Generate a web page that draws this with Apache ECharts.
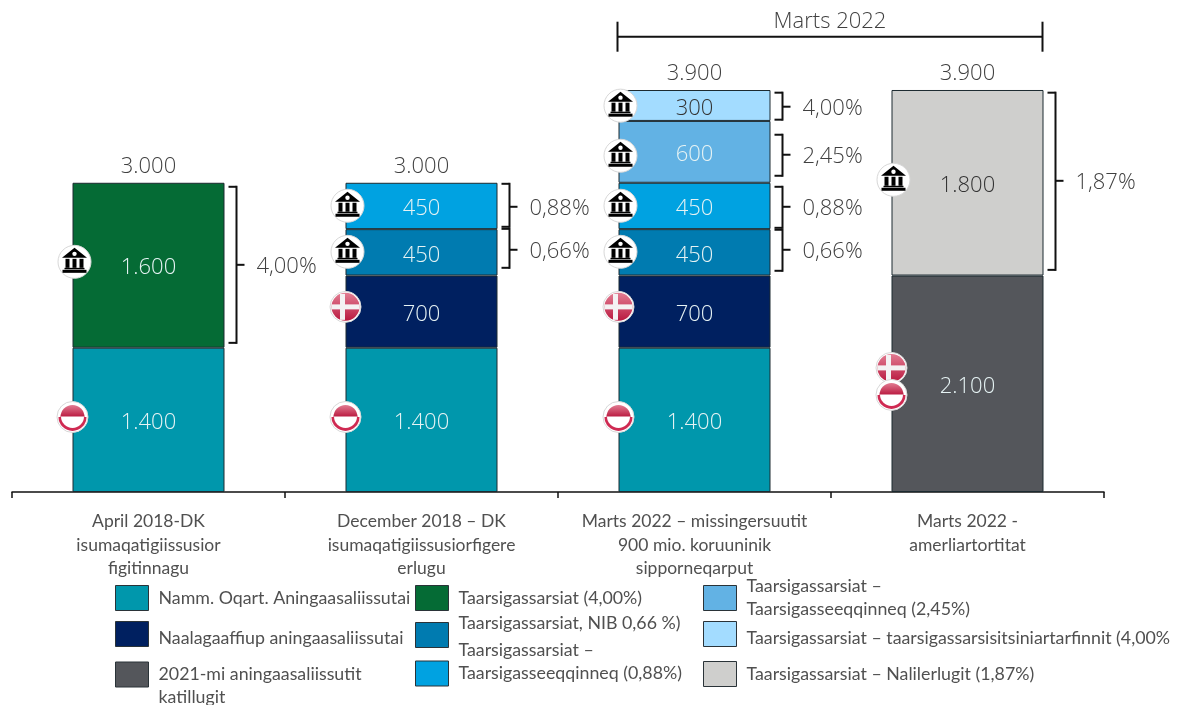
<!DOCTYPE html>
<html><head><meta charset="utf-8">
<style>html,body{margin:0;padding:0;background:#fff}#c{width:1178px;height:705px}</style>
<script src="https://cdn.jsdelivr.net/npm/echarts@6/dist/echarts.min.js"></script>
</head><body><div id="c"></div>
<script>
const categories = [
  "April 2018-DK\nisumaqatigiissusior\nfigitinnagu",
  "December 2018 – DK\nisumaqatigiissusiorfigere\nerlugu",
  "Marts 2022 – missingersuutit\n900 mio. koruuninik\nsipporneqarput",
  "Marts 2022 -\namerliartortitat"
];
const totals = [3000, 3000, 3900, 3900];
const nammOqart = [1400, 1400, 1400, null];
const taars400 = [1600, null, null, null];
const naalagaaffiup = [null, 700, 700, null];
const taarsNib = [null, 450, 450, null];
const taars088 = [null, 450, 450, null];
const taars245 = [null, null, 600, null];
const taarsFinnit = [null, null, 300, null];
const aning2021 = [null, null, null, 2100];
const taars187 = [null, null, null, 1800];

const braceCats = [0, 1, 1, 2, 2, 2, 2, 3];
const braceFrom = [2961, 2990, 2553, 3874, 3466, 2961, 2544, 3874];
const braceTo = [1447, 2573, 2175, 3612, 3068, 2563, 2146, 2155];
const braceMid = [2204, 2767, 2350, 3738, 3272, 2767, 2350, 3019];
const braceLabels = ["4,00%", "0,88%", "0,66%", "4,00%", "2,45%", "0,88%", "0,66%", "1,87%"];

const iconCats = [0, 0, 1, 1, 1, 1, 2, 2, 2, 2, 2, 2, 3, 3, 3];
const iconValues = [2233, 728, 2777, 2330, 1796, 728, 3748, 3262, 2777, 2330, 1796, 728, 3029, 1204, 942];
const iconKinds = ["bank", "gl", "bank", "bank", "dk", "gl", "bank", "bank", "bank", "bank", "dk", "gl", "bank", "dk", "gl"];

const periodLabel = "Marts 2022";
const periodCats = [2, 3];
const periodValue = 4417;

const INK = "#404040", SOFT = "#505050", FONT = '"Open Sans"', LABEL_FONT = 'Lato', BAR_W = 152;
const fmt = v => String(v).replace(/\B(?=(\d{3})+$)/g, ".");

function barSeries(name, data, color, labelColor) {
  return { name, type: "bar", stack: "a", data, barWidth: BAR_W,
    itemStyle: { color, borderColor: "#1c2a30", borderWidth: 1 },
    label: { show: true, position: "inside", offset: [0, 3], fontFamily: FONT, fontWeight: 300, fontSize: 22, color: labelColor,
      formatter: p => fmt(p.value) } };
}
const LIGHT = "#e6f3f4";
const bars = [
  barSeries("Namm. Oqart. Aningaasaliissutai", nammOqart, "#0097ac", LIGHT),
  barSeries("Taarsigassarsiat (4,00%)", taars400, "#056b35", LIGHT),
  barSeries("Naalagaaffiup aningaasaliissutai", naalagaaffiup, "#002060", LIGHT),
  barSeries("Taarsigassarsiat, NIB 0,66 %)", taarsNib, "#007bb0", LIGHT),
  barSeries("Taarsigassarsiat –\nTaarsigasseeqqinneq (0,88%)", taars088, "#00a2e1", LIGHT),
  barSeries("Taarsigassarsiat –\nTaarsigasseeqqinneq (2,45%)", taars245, "#62b2e4", LIGHT),
  barSeries("Taarsigassarsiat – taarsigassarsisitsiniartarfinnit (4,00%", taarsFinnit, "#a3dcff", "#333"),
  barSeries("2021-mi aningaasaliissutit\nkatillugit", aning2021, "#54565b", LIGHT),
  barSeries("Taarsigassarsiat – Nalilerlugit (1,87%)", taars187, "#cfcfcd", "#333")
];

// left, top, text placement against the swatch: plain, "up" a half line, "down" a half line, "nudge" a little lower
const legendLayout = [
  [115, 585, "plain"], [415, 585, "plain"], [115, 621, "nudge"], [415, 612, "up"], [415, 639, "up"],
  [703, 575, "plain"], [703, 621, "nudge"], [115, 640, "down"], [703, 661, "plain"]
];
const LEGEND_TEXT = { fontFamily: LABEL_FONT, fontWeight: 400, fontSize: 17.8, color: SOFT, lineHeight: 23 };
const legends = bars.map((s, i) => {
  const place = legendLayout[i][2];
  return {
    data: [s.name], left: legendLayout[i][0], top: legendLayout[i][1], padding: 0,
    selectedMode: false, itemWidth: 33, itemHeight: 25, orient: "horizontal",
    icon: "rect",
    itemStyle: { borderColor: "#2a3338", borderWidth: 1 },
    formatter: n => place === "up" ? n + "\n " : place === "down" ? " \n" + n : place === "nudge" ? "{t|" + n + "}" : n,
    textStyle: { ...LEGEND_TEXT, padding: [0, 0, 0, 5], rich: { t: { ...LEGEND_TEXT, padding: [8, 0, 0, 0] } } }
  };
});

const line = (x1, y1, x2, y2) => ({ type: "line", shape: { x1, y1, x2, y2 }, style: { stroke: "#111", lineWidth: 2 } });
const txt = (text, x, y, align, size) => ({ type: "text", style: { text, x, y, align: align, verticalAlign: "middle",
  fill: INK, font: `300 ${size}px ${FONT}` } });

function bank(cx, cy) {
  const parts = [
    { type: "circle", shape: { cx, cy, r: 16.5 }, style: { fill: "#fff", stroke: "#d8d8d8", lineWidth: 1 } },
    { type: "polygon", shape: { points: [[cx - 12.5, cy - 4], [cx, cy - 14], [cx + 12.5, cy - 4]] }, style: { fill: "#000" } },
    { type: "circle", shape: { cx, cy: cy - 8, r: 2.2 }, style: { fill: "#fff" } },
    { type: "rect", shape: { x: cx - 12, y: cy + 8, width: 24, height: 3 }, style: { fill: "#000" } },
    { type: "rect", shape: { x: cx - 10, y: cy + 6, width: 20, height: 1.5 }, style: { fill: "#000" } }
  ];
  [-9, -2, 5].forEach(o => parts.push({ type: "rect", shape: { x: cx + o, y: cy - 3, width: 4, height: 9 }, style: { fill: "#000" } }));
  return parts;
}
const redGrad = { type: "linear", x: 0, y: 0, x2: 0, y2: 1, colorStops: [{ offset: 0, color: "#e27c92" }, { offset: 1, color: "#b9193f" }] };
function denmark(cx, cy) {
  return [
    { type: "circle", shape: { cx, cy, r: 15.5 }, style: { fill: "#fff", stroke: "#d8d8d8", lineWidth: 1 } },
    { type: "circle", shape: { cx, cy, r: 14 }, style: { fill: redGrad } },
    { type: "rect", shape: { x: cx - 5.5, y: cy - 13, width: 5, height: 26 }, style: { fill: "#f4f2f3" } },
    { type: "rect", shape: { x: cx - 14, y: cy - 2.5, width: 28, height: 5 }, style: { fill: "#f4f2f3" } }
  ];
}
function greenland(cx, cy) {
  return [
    { type: "circle", shape: { cx, cy, r: 15.5 }, style: { fill: "#fff", stroke: "#d8d8d8", lineWidth: 1 } },
    { type: "sector", shape: { cx, cy, r: 12, startAngle: Math.PI, endAngle: 2 * Math.PI }, style: { fill: redGrad } },
    { type: "sector", shape: { cx, cy, r: 14, startAngle: 0, endAngle: Math.PI }, style: { fill: "#cf2a52" } },
    { type: "sector", shape: { cx, cy: cy - 0.5, r: 11.5, startAngle: 0, endAngle: Math.PI }, style: { fill: "#fff" } }
  ];
}

const totalSeries = { type: "custom", z: 5, data: totals.map((v, i) => [i, v]), encode: { x: 0, y: 1 },
  renderItem: (p, api) => {
    const c = api.coord([api.value(0), api.value(1)]);
    return txt(fmt(api.value(1)), c[0], c[1] - 16, "center", 22);
  } };

const braceSeries = { type: "custom", z: 5, data: braceCats.map((c, i) => [c, braceFrom[i], braceTo[i], braceMid[i]]), encode: { x: 0, y: [1, 2] },
  renderItem: (p, api) => {
    const i = p.dataIndex, t = api.coord([api.value(0), api.value(1)]), b = api.coord([api.value(0), api.value(2)]), m = api.coord([api.value(0), api.value(3)]);
    const r = t[0] + BAR_W / 2, x0 = r + 4, x1 = r + 12, x2 = r + 20;
    return { type: "group", children: [
      line(x0, t[1], x1, t[1]), line(x1, t[1] - 1, x1, b[1] + 1), line(x0, b[1], x1, b[1]), line(x1, m[1], x2, m[1]),
      txt(braceLabels[i], r + 32, m[1] + 2, "left", 22)
    ] };
  } };

const iconSeries = { type: "custom", z: 6, data: iconCats.map((c, i) => [c, iconValues[i]]), encode: { x: 0, y: 1 },
  renderItem: (p, api) => {
    const i = p.dataIndex, k = iconKinds[i], c = api.coord([api.value(0), api.value(1)]), l = c[0] - BAR_W / 2;
    const children = k === "bank" ? bank(l + 2, c[1]) : k === "dk" ? denmark(l, c[1]) : greenland(l, c[1]);
    return { type: "group", children };
  } };

const periodSeries = { type: "custom", z: 5, data: [[periodCats[0], periodCats[1], periodValue]], encode: { x: [0, 1], y: 2 },
  renderItem: (p, api) => {
    const a = api.coord([api.value(0), api.value(2)]), b = api.coord([api.value(1), api.value(2)]);
    const l = a[0] - BAR_W / 2 - 1, r = b[0] + BAR_W / 2 - 1, y = a[1];
    return { type: "group", children: [
      line(l, y, r, y), line(l, y - 15, l, y + 15), line(r, y - 15, r, y + 15),
      txt(periodLabel, (l + r) / 2, y - 15, "center", 22)
    ] };
  } };

const chart = echarts.init(document.getElementById("c"), null, { renderer: "canvas" });
chart.setOption({
  animation: false, backgroundColor: "#fff",
  grid: { left: 12, right: 74, top: 90, bottom: 213, containLabel: false },
  xAxis: { type: "category", data: categories,
    axisLine: { lineStyle: { color: "#111", width: 1.5 } },
    axisTick: { show: true, length: 6, inside: false, lineStyle: { color: "#111", width: 1.5 } },
    axisLabel: { margin: 18, interval: 0, fontFamily: LABEL_FONT, fontWeight: 400, fontSize: 17.5, color: SOFT, lineHeight: 23.5 } },
  yAxis: { type: "value", min: 0, max: 3900, show: false, splitLine: { show: false } },
  legend: legends,
  series: [...bars, totalSeries, braceSeries, iconSeries, periodSeries]
});
</script></body></html>
